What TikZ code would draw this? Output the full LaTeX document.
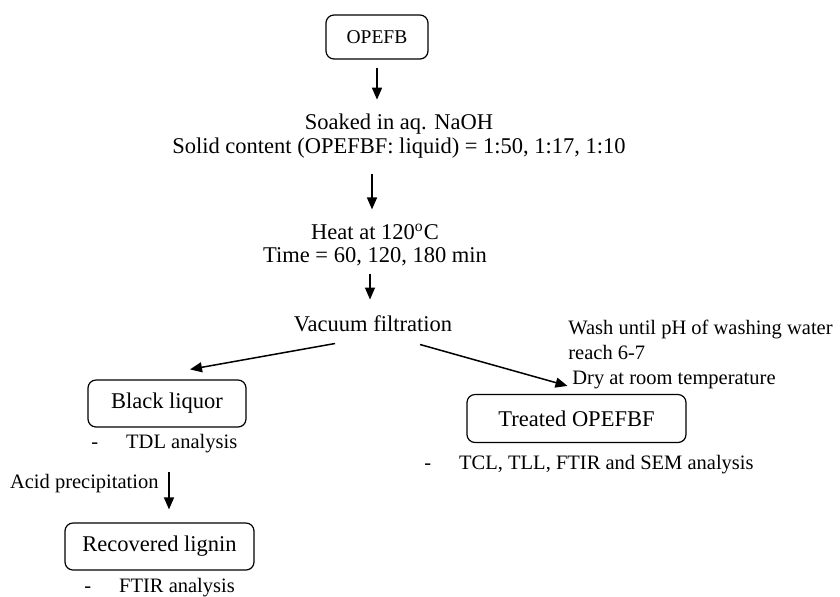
\documentclass[tikz,border=0pt]{standalone}
\usepackage{fontspec}
\setmainfont{Liberation Serif}
\usetikzlibrary{arrows.meta, positioning, calc}

\begin{document}
\begin{tikzpicture}[x=0.5pt, y=-0.5pt,
  box/.style={draw, rounded corners=4pt, line width=0.6pt, inner sep=0pt, font=\fontsize{11.25}{12.5}\selectfont},
  flow/.style={font=\fontsize{11.25}{11.75}\selectfont, align=center, inner sep=1pt},
  note/.style={font=\fontsize{10.25}{12.5}\selectfont, inner sep=0pt, anchor=west, align=left},
  arr/.style={-{Triangle[length=6pt, width=5pt]}, line width=0.75pt}]
  \useasboundingbox (0,0) rectangle (840,596);

  % Main column
  \node[box, minimum width=51pt, minimum height=22pt, font=\fontsize{9.75}{11}\selectfont] (opefb) at (377,37) {OPEFB};
  \node[flow] (soak) at (399,136) {Soaked in aq. NaOH\\Solid content (OPEFBF: liquid) = 1:50, 1:17, 1:10};
  \node[flow] (heat) at (375,245) {Heat at 120\textsuperscript{o}C\\Time = 60, 120, 180 min};
  \node[flow] (vac) at (373,324) {Vacuum filtration};

  % Left branch
  \node[box, minimum width=79pt, minimum height=23.5pt] (black) at (167,403.5) {Black liquor};
  \node[note] (tdl) at (91,444) {-\hspace{14pt}TDL analysis};
  \node[note, anchor=east] (acid) at (159,484) {Acid precipitation};
  \node[box, minimum width=94.5pt, minimum height=23.5pt] (rec) at (159.5,546.5) {Recovered lignin};
  \node[note] (ftir) at (84,588) {-\hspace{14pt}FTIR analysis};

  % Right branch
  \node[note] (wash) at (568,354) {Wash until pH of washing water\\reach 6-7\\\hspace*{2pt}Dry at room temperature};
  \node[box, minimum width=109.5pt, minimum height=24pt] (treat) at (576.5,418.5) {Treated OPEFBF};
  \node[note] (tcl) at (424,465) {-\hspace{14pt}TCL, TLL, FTIR and SEM analysis};

  % Arrows
  \draw[arr, shorten <=4pt, shorten >=6pt] (opefb.south) -- (opefb.south |- soak.north);
  \draw[arr, shorten <=7pt, shorten >=6pt] ([xshift=-1.5pt]soak.south -| heat.north) -- ([xshift=-1.5pt]heat.north);
  \draw[arr, shorten <=2.5pt, shorten >=7pt] ([xshift=-1.5pt]heat.south -| vac.north) -- ([xshift=-1.5pt]vac.north);
  \draw[arr] ([xshift=-19pt, yshift=-4.5pt]vac.south) -- ([xshift=11.5pt, yshift=5pt]black.north);
  \draw[arr] ([xshift=23.5pt, yshift=-5pt]vac.south) -- ([xshift=-4.5pt, yshift=4pt]treat.north);
  \draw[arr, shorten <=9pt, shorten >=6.5pt] ([xshift=1pt]tdl.south -| black.south) -- ([xshift=1pt]black.south |- rec.north);
\end{tikzpicture}
\end{document}
